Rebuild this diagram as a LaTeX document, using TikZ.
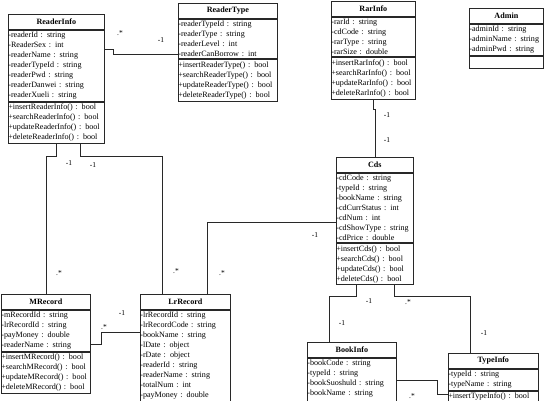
\documentclass[tikz,border=0pt]{standalone}
\usepackage{fontspec}
\setmainfont{Liberation Serif}
\usetikzlibrary{positioning,calc}
\definecolor{umlline}{RGB}{40,40,40}
\tikzset{
  cls/.style={draw=umlline, line width=.7pt, inner xsep=0pt, inner ysep=2pt,
    font=\fontsize{8.1}{10}\selectfont, align=left},
  clstitle/.style={cls, font=\fontsize{8.1}{10}\selectfont\bfseries, align=center,
    minimum height=15pt, anchor=north west},
  assoc/.style={draw=umlline, line width=.7pt},
  mult/.style={font=\fontsize{7.5}{8}\selectfont, inner sep=0pt}
}
% name, x, y, width, title, attributes, operations
\newcommand{\umlclass}[7]{%
  \node[clstitle, text width=#4pt] (#1) at (#2,#3) {#5};
  \node[cls, text width=#4pt, below=0pt of #1] (#1-a) {#6};
  \node[cls, text width=#4pt, below=0pt of #1-a] (#1-m) {#7};
}

\begin{document}
\begin{tikzpicture}[x=1pt,y=-1pt]
  \useasboundingbox (0,0) rectangle (544,400);
  \clip (0,0) rectangle (544,400);
  % classes
  \umlclass{ri}{8}{14}{96}{ReaderInfo}
    {-readerId : string\\-ReaderSex : int\\-readerName : string\\-readerTypeId : string\\-readerPwd : string\\-readerDanwei : string\\-readerXueli : string}
    {+insertReaderInfo() : bool\\+searchReaderInfo() : bool\\+updateReaderInfo() : bool\\+deleteReaderInfo() : bool}
  \umlclass{rt}{178}{3}{99}{ReaderType}
    {-readerTypeId : string\\-readerType : string\\-readerLevel : int\\-readerCanBorrow : int}
    {+insertReaderType() : bool\\+searchReaderType() : bool\\+updateReaderType() : bool\\+deleteReaderType() : bool}
  \umlclass{rar}{331}{1}{84}{RarInfo}
    {-rarId : string\\-cdCode : string\\-rarType : string\\-rarSize : double}
    {+insertRarInfo() : bool\\+searchRarInfo() : bool\\+updateRarInfo() : bool\\+deleteRarInfo() : bool}
  \umlclass{adm}{469}{8}{74}{Admin}
    {-adminId : string\\-adminName : string\\-adminPwd : string}
    {\rule{0pt}{8pt}}
  \umlclass{cds}{336}{157}{77}{Cds}
    {-cdCode : string\\-typeId : string\\-bookName : string\\-cdCurrStatus : int\\-cdNum : int\\-cdShowType : string\\-cdPrice : double}
    {+insertCds() : bool\\+searchCds() : bool\\+updateCds() : bool\\+deleteCds() : bool}
  \umlclass{mr}{1}{294}{89}{MRecord}
    {-mRecordId : string\\-lrRecordId : string\\-payMoney : double\\-readerName : string}
    {+insertMRecord() : bool\\+searchMRecord() : bool\\+updateMRecord() : bool\\+deleteMRecord() : bool}
  \umlclass{lr}{140}{294}{90}{LrRecord}
    {-lrRecordId : string\\-lrRecordCode : string\\-bookName : string\\-lDate : object\\-rDate : object\\-readerId : string\\-readerName : string\\-totalNum : int\\-payMoney : double\\\strut}
    {\strut}
  \umlclass{bi}{307}{342}{89}{BookInfo}
    {-bookCode : string\\-typeId : string\\-bookSuoshuld : string\\-bookName : string\\\strut}
    {\strut}
  \umlclass{ti}{448}{353}{90}{TypeInfo}
    {-typeId : string\\-typeName : string}
    {+insertTypeInfo() : bool\\\strut}
  % associations
  \draw[assoc] ($(ri-a.north east)+(0,20)$) -| ($(rt-a.north west)+(-65,36)$) -- ++(65,0);
  \draw[assoc] (ri-m.south) -- ++(0,12) -| (mr.north);
  \draw[assoc] ($(ri-m.south)+(24,0)$) -- ++(0,12) -| ($(lr.north)+(-23,0)$);
  \draw[assoc] ($(cds-a.west)+(0,14)$) -| ($(lr.north)+(22,0)$);
  \draw[assoc] (rar-m.south) -- ++(0,10) -| (cds.north);
  \draw[assoc] ($(mr-a.north east)+(0,35)$) -| ($(lr-a.north west)+(-39,23)$) -- ++(39,0);
  \draw[assoc] ($(cds-m.south)+(-19,0)$) -- ++(0,11) -| ($(bi.north)+(-23,0)$);
  \draw[assoc] ($(cds-m.south)+(19,0)$) -- ++(0,11) -| ($(ti.north)+(-23,0)$);
  \draw[assoc] ($(bi-a.north east)+(0,23)$) -| ($(ti-m.north west)+(-11,4)$) -- ++(11,0);
  % multiplicities
  \node[mult] (m1) at (120,33) {.*};
  \node[mult] (m2) at (161,40) {-1};
  \node[mult] (m3) at (69,163) {-1};
  \node[mult] (m4) at (59,273) {.*};
  \node[mult] (m5) at (93,165) {-1};
  \node[mult] (m6) at (176,271) {.*};
  \node[mult] (m7) at (315,235) {-1};
  \node[mult] (m8) at (222,273) {.*};
  \node[mult] (m9) at (387,115) {-1};
  \node[mult] (m10) at (387,140) {-1};
  \node[mult] (m11) at (369,301) {-1};
  \node[mult] (m12) at (342,323) {-1};
  \node[mult] (m13) at (408,302) {.*};
  \node[mult] (m14) at (484,333) {-1};
  \node[mult] (m15) at (412,396) {.*};
  \node[mult] (m16) at (104,327) {.*};
  \node[mult] (m17) at (122,313) {-1};
\end{tikzpicture}
\end{document}
